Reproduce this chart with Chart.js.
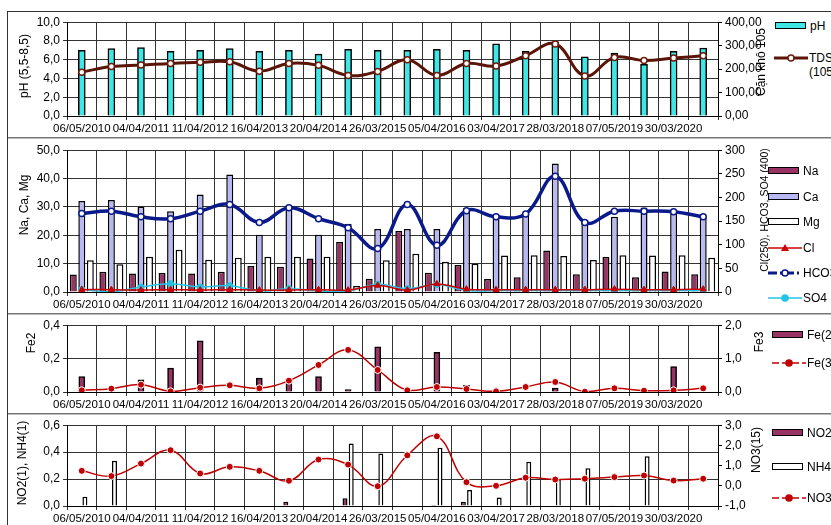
<!DOCTYPE html>
<html>
<head>
<meta charset="utf-8">
<script src="https://cdn.jsdelivr.net/npm/chart.js@4.4.0/dist/chart.umd.min.js"></script>
<style>
  body { margin: 0; background: #fff; width: 831px; height: 525px; overflow: hidden; position: relative; font-family: "Liberation Sans", Arial, sans-serif; }
  canvas { position: absolute; }
  .frame { position: absolute; left: 7px; top: 11px; width: 900px; height: 600px; border-left: 1px solid #333; border-top: 1px solid #333; }
  .sep { position: absolute; left: 8px; width: 900px; height: 1px; background: #777; border-bottom: 1px solid #bbb; }
  .leg { position: absolute; font-size: 12px; color: #000; white-space: nowrap; line-height: 14px; }
  .sw { position: absolute; width: 29px; height: 5px; border: 1.5px solid #000; }
  svg { position: absolute; overflow: visible; }
</style>
</head>
<body>
<div class="frame"></div>
<div class="sep" style="top:137px"></div>
<div class="sep" style="top:313px"></div>
<div class="sep" style="top:413px"></div>
<canvas id="c1" width="762" height="130" style="left:8px;top:12px"></canvas>
<canvas id="c2" width="762" height="174" style="left:8px;top:140px"></canvas>
<canvas id="c3" width="762" height="99" style="left:8px;top:315px"></canvas>
<canvas id="c4" width="762" height="110" style="left:8px;top:415px"></canvas>
<script>
// nhan ngay lay mau (chi doc duoc nhan le)
const ngay = ["06/05/2010", "", "04/04/2011", "", "11/04/2012", "", "16/04/2013", "", "20/04/2014", "",
  "26/03/2015", "", "05/04/2016", "", "03/04/2017", "", "28/03/2018", "", "07/05/2019", "", "30/03/2020", ""];

// pH va TDS
const pH = [7.0, 7.2, 7.3, 6.9, 7.0, 7.2, 6.9, 7.0, 6.6, 7.1, 7.0, 7.0, 7.1, 7.0, 7.7, 6.9, 7.9, 6.3, 6.7, 5.5, 6.9, 7.25];
const tds = [187, 211, 217, 224, 229, 231, 191, 224, 216, 173, 190, 240, 173, 224, 213, 257, 307, 171, 250, 237, 247, 257];

// cation / anion
const na = [6.2, 7.1, 6.5, 6.7, 6.5, 7.1, 9.2, 8.9, 11.8, 17.6, 4.7, 21.5, 6.8, 9.5, 4.6, 5.2, 14.6, 6.3, 12.3, 5.2, 7.2, 6.3];
const ca = [32.1, 32.4, 30.1, 28.5, 34.4, 41.4, 20.2, 30.0, 20.2, 24.1, 22.2, 22.2, 22.2, 29.5, 26.5, 27.5, 45.3, 25.4, 26.5, 29.8, 27.7, 26.8];
const mg = [11.2, 9.8, 12.4, 14.9, 11.4, 12.1, 12.4, 12.4, 12.4, 2.1, 11.2, 13.5, 10.7, 10.0, 12.9, 13.0, 12.7, 11.3, 13.0, 12.9, 13.0, 12.1];
const cl = [5, 5, 4, 5, 4, 5, 4, 4, 5, 4, 14, 4, 17, 6, 5, 5, 5, 5, 6, 5, 5, 6];
const hco3 = [166, 171, 159, 155, 171, 185, 147, 178, 155, 136, 92, 185, 99, 172, 159, 165, 245, 147, 171, 171, 170, 159];
const so4 = [5.6, 0.5, 10.6, 17.6, 10.6, 13.4, 2.1, 7.1, 2.1, 2.1, 16.2, 7.1, 16.0, 3, 3, 3, 3, 3, 3, 3, 3, 3];

// sat
const fe2 = [0.093, 0, 0.073, 0.143, 0.307, 0, 0.083, 0.08, 0.093, 0.014, 0.27, 0, 0.238, 0.04, 0, 0, 0.024, 0, 0, 0, 0.152, 0];
const fe3 = [0.05, 0.10, 0.22, 0.02, 0.13, 0.20, 0.11, 0.34, 0.81, 1.26, 0.66, 0.05, 0.15, 0.09, 0.02, 0.15, 0.30, 0.01, 0.11, 0.04, 0.05, 0.11];

// nito
const no2 = [0, 0, 0, 0, 0, 0, 0, 0.032, 0, 0.057, 0, 0, 0.007, 0.032, 0, 0, 0, 0, 0.005, 0, 0, 0];
const nh4 = [0.069, 0.336, 0, 0, 0, 0, 0, 0, 0, 0.464, 0.39, 0, 0.432, 0.118, 0.064, 0.328, 0.2, 0.28, 0, 0.37, 0, 0];
const no3 = [0.74, 0.48, 1.10, 1.76, 0.61, 0.94, 0.74, 0.25, 1.30, 1.05, -0.02, 1.51, 2.45, 0.18, 0.0, 0.40, 0.31, 0.35, 0.43, 0.51, 0.26, 0.35];

Chart.defaults.font.family = '"Liberation Sans", Arial, sans-serif';
Chart.defaults.font.size = 12;
Chart.defaults.color = '#000';

const fmt = d => v => v.toFixed(d).replace('.', ',');

// tieu de truc xoay, toa do theo trang
const axisTitles = {
  id: 'axisTitles',
  afterDraw(chart, args, opts) {
    const ctx = chart.ctx;
    const ox = chart.canvas.offsetLeft, oy = chart.canvas.offsetTop;
    opts.items.forEach(t => {
      ctx.save();
      ctx.translate(t.x - ox, t.y - oy);
      ctx.rotate(-Math.PI / 2);
      ctx.font = (t.size || 12) + 'px "Liberation Sans", Arial';
      ctx.fillStyle = '#000';
      ctx.textAlign = 'center';
      ctx.textBaseline = 'middle';
      ctx.fillText(t.text, 0, 0);
      ctx.restore();
    });
  }
};

function yScale(pos, min, max, step, dec, width) {
  return {
    position: pos, min: min, max: max,
    ticks: { stepSize: step, callback: fmt(dec), padding: 3, font: { size: 12 }, color: '#000' },
    grid: pos === 'left'
      ? { color: '#333', tickLength: 4 }
      : { drawOnChartArea: false, color: '#000', tickLength: 4 },
    border: { color: '#000' },
    afterFit: s => { s.width = width; }
  };
}

function panel(id, xh, datasets, yL, yR, titles) {
  new Chart(document.getElementById(id), {
    type: 'bar',
    data: { labels: ngay, datasets: datasets },
    options: {
      responsive: false,
      animation: false,
      layout: { padding: { top: 10, left: 0, right: 0, bottom: 0 } },
      plugins: { legend: { display: false }, tooltip: { enabled: false }, axisTitles: { items: titles } },
      scales: {
        x: {
          grid: { color: '#333', tickLength: 4, offset: true },
          border: { color: '#000' },
          ticks: { autoSkip: false, maxRotation: 0, minRotation: 0, padding: 2, font: { size: 11.5 }, color: '#000' },
          afterFit: s => { s.height = xh; }
        },
        y: yL,
        y1: yR
      }
    },
    plugins: [axisTitles]
  });
}

const lineDs = (label, data, color, w, extra) => Object.assign({
  type: 'line', label: label, data: data, yAxisID: 'y1', order: 0,
  borderColor: color, borderWidth: w, tension: 0.4,
  pointRadius: 3, pointBackgroundColor: color, pointBorderColor: color, pointBorderWidth: 1
}, extra || {});

const barDs = (label, data, fill, extra) => Object.assign({
  type: 'bar', label: label, data: data, yAxisID: 'y', order: 1,
  backgroundColor: fill, borderColor: '#000', borderWidth: 1.5
}, extra || {});

// 1. pH - TDS
panel('c1', 26, [
  lineDs('TDS (105°C)', tds, '#5a1408', 3, { pointBackgroundColor: '#fff', pointBorderColor: '#6b1e0e', pointBorderWidth: 1.5 }),
  barDs('pH', pH, '#3ee6e6', { barThickness: 7 })
], yScale('left', 0, 10, 2, 1, 59), yScale('right', 0, 400, 100, 2, 52), [
  { text: 'pH (5,5-8,5)', x: 25, y: 66 },
  { text: 'Cặn khô 105', x: 762, y: 62 }
]);

// 2. Na, Ca, Mg - Cl, HCO3, SO4
const grp3 = { categoryPercentage: 0.862, barPercentage: 0.82 };
panel('c2', 22, [
  lineDs('HCO3', hco3, '#0b1a8a', 3.5, { pointBackgroundColor: '#fff', pointBorderColor: '#0b1a8a', pointBorderWidth: 1.5 }),
  lineDs('Cl', cl, '#cc0000', 1.5, { pointStyle: 'triangle', pointRadius: 3.5 }),
  lineDs('SO4', so4, '#22c4e6', 1.5),
  barDs('Na', na, '#993366', grp3),
  barDs('Ca', ca, '#b8b8f2', grp3),
  barDs('Mg', mg, '#ffffff', grp3)
], yScale('left', 0, 50, 10, 1, 59), yScale('right', 0, 300, 50, 0, 52), [
  { text: 'Na, Ca, Mg', x: 25, y: 205 },
  { text: 'Cl(250), HCO3, SO4 (400)', x: 765, y: 210, size: 10.5 }
]);

// 3. Fe2 - Fe3
panel('c3', 22, [
  lineDs('Fe(3)', fe3, '#c00000', 1.5, { pointBorderColor: '#fff', pointRadius: 3.5 }),
  barDs('Fe(2)', fe2, '#993366', { barThickness: 6 })
], yScale('left', 0, 0.4, 0.2, 1, 59), yScale('right', 0, 2, 1, 1, 52), [
  { text: 'Fe2', x: 32, y: 343 },
  { text: 'Fe3', x: 760, y: 342 }
]);

// 4. NO2, NH4 - NO3
const grp2 = { categoryPercentage: 0.42, barPercentage: 0.8 };
panel('c4', 19, [
  lineDs('NO3', no3, '#c00000', 1.5, { pointBorderColor: '#fff', pointRadius: 3.5 }),
  barDs('NO2', no2, '#993366', grp2),
  barDs('NH4', nh4, '#ffffff', grp2)
], yScale('left', 0, 0.6, 0.2, 1, 59), yScale('right', -1, 3, 1, 1, 52), [
  { text: 'NO2(1), NH4(1)', x: 23, y: 463 },
  { text: 'NO3(15)', x: 757, y: 450 }
]);

// chu giai ben phai
const legends = [
  { x: 775, y: 26, text: 'pH', kind: 'bar', fill: '#3ee6e6' },
  { x: 774, y: 58, text: 'TDS', text2: '(105°C)', kind: 'line', color: '#5a1408', w: 3, mfill: '#fff', mstroke: '#6b1e0e' },
  { x: 768, y: 171, text: 'Na', kind: 'bar', fill: '#993366' },
  { x: 768, y: 197, text: 'Ca', kind: 'bar', fill: '#b8b8f2' },
  { x: 768, y: 222, text: 'Mg', kind: 'bar', fill: '#ffffff' },
  { x: 768, y: 248, text: 'Cl', kind: 'line', color: '#cc0000', w: 1.5, marker: 'tri' },
  { x: 768, y: 273, text: 'HCO3', kind: 'line', color: '#0b1a8a', w: 3, dash: '9 3 2 3', mfill: '#fff', mstroke: '#0b1a8a' },
  { x: 768, y: 298, text: 'SO4', kind: 'line', color: '#22c4e6', w: 1.5 },
  { x: 772, y: 335, text: 'Fe(2)', kind: 'bar', fill: '#993366' },
  { x: 772, y: 363, text: 'Fe(3)', kind: 'line', color: '#c00000', w: 1.5, dash: '7 3' },
  { x: 772, y: 433, text: 'NO2', kind: 'bar', fill: '#993366' },
  { x: 772, y: 467, text: 'NH4', kind: 'bar', fill: '#ffffff' },
  { x: 772, y: 498, text: 'NO3', kind: 'line', color: '#c00000', w: 1.5, dash: '7 3' }
];

const NS = 'http://www.w3.org/2000/svg';
legends.forEach(l => {
  if (l.kind === 'bar') {
    const s = document.createElement('div');
    s.className = 'sw';
    s.style.left = l.x + 'px';
    s.style.top = (l.y - 4) + 'px';
    s.style.background = l.fill;
    document.body.appendChild(s);
  } else {
    const svg = document.createElementNS(NS, 'svg');
    svg.setAttribute('width', 34);
    svg.setAttribute('height', 10);
    svg.style.left = l.x + 'px';
    svg.style.top = (l.y - 5) + 'px';
    const ln = document.createElementNS(NS, 'line');
    ln.setAttribute('x1', 0); ln.setAttribute('x2', 34);
    ln.setAttribute('y1', 5); ln.setAttribute('y2', 5);
    ln.setAttribute('stroke', l.color);
    ln.setAttribute('stroke-width', l.w);
    if (l.dash) ln.setAttribute('stroke-dasharray', l.dash);
    svg.appendChild(ln);
    let m;
    if (l.marker === 'tri') {
      m = document.createElementNS(NS, 'polygon');
      m.setAttribute('points', '17,1 21,8 13,8');
      m.setAttribute('fill', l.color);
    } else {
      m = document.createElementNS(NS, 'circle');
      m.setAttribute('cx', 17); m.setAttribute('cy', 5); m.setAttribute('r', 3);
      m.setAttribute('fill', l.mfill || l.color);
      m.setAttribute('stroke', l.mstroke || l.color);
      m.setAttribute('stroke-width', 1.5);
    }
    svg.appendChild(m);
    document.body.appendChild(svg);
  }
  const t = document.createElement('div');
  t.className = 'leg';
  t.style.left = (l.x + 35) + 'px';
  t.style.top = (l.y - 7) + 'px';
  t.textContent = l.text;
  if (l.text2) {
    t.appendChild(document.createElement('br'));
    t.appendChild(document.createTextNode(l.text2));
  }
  document.body.appendChild(t);
});
</script>
</body>
</html>
